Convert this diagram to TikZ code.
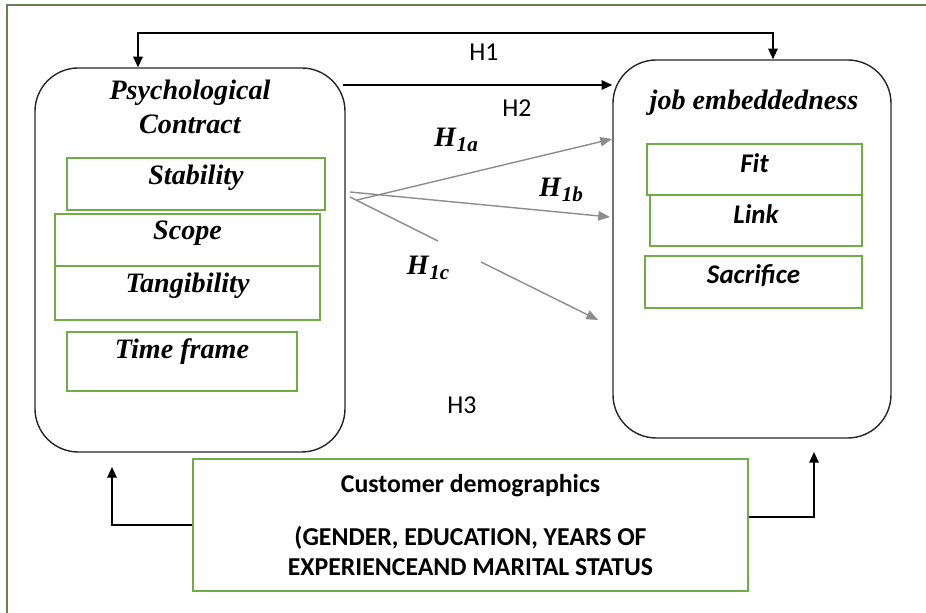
\documentclass[tikz,border=0pt]{standalone}
\usepackage{fontspec}
\setmainfont{Liberation Serif}
\newfontfamily\calfont{Carlito}
\usetikzlibrary{arrows.meta,positioning}
\definecolor{framegreen}{RGB}{100,130,80}
\definecolor{boxgreen}{RGB}{112,173,71}
\definecolor{hgray}{RGB}{140,140,140}
\newcommand{\hyp}[1]{\textbf{\textit{H}}\raisebox{-0.45ex}{\textbf{\textit{\small #1}}}}

\begin{document}
\begin{tikzpicture}[x=0.015cm,y=-0.015cm,
  bigbox/.style={draw=black!85,line width=0.6pt,rounded corners=0.65cm},
  subbox/.style={draw=boxgreen,line width=0.6pt,inner sep=0pt},
  psytext/.style={font=\bfseries\itshape\fontsize{12}{12.5}\selectfont,anchor=center,yshift=-0.3cm},
  jobtext/.style={font=\calfont\bfseries\itshape\fontsize{11.5}{12}\selectfont,anchor=center,yshift=-0.3cm},
  hlabel/.style={font=\calfont\fontsize{11}{12}\selectfont},
  arr/.style={line width=0.6pt,-{Triangle[length=4.5pt,width=4pt]}},
  grayarr/.style={hgray,line width=0.6pt,-{Triangle[length=5pt,width=4pt]}}]
  \useasboundingbox (0,0) rectangle (926,613);

  % frame
  \draw[framegreen,line width=1.2pt] (935,5) -- (7,5) -- (7,620);

  \node[bigbox,minimum width=4.65cm,minimum height=5.76cm] (psy) at (190,260) {};
  \node[bigbox,minimum width=4.17cm,minimum height=5.67cm] (job) at (752,249) {};

  \node[font=\bfseries\itshape\fontsize{12}{14.5}\selectfont,align=center] (psyt) at (190,107) {Psychological\\Contract};
  \node[font=\bfseries\itshape\fontsize{12}{14}\selectfont] (jobt) at (754,103) {job embeddedness};

  \foreach \name/\cx/\cy/\w/\h/\boxlabel in
  {
    stab/196/184/3.87/0.78/Stability,
    scope/187.5/240/3.975/0.78/Scope,
    tang/187.5/293/3.975/0.81/Tangibility,
    time/182/361.5/3.45/0.885/Time frame
  }
  {
   \node[subbox,minimum width=\w cm,minimum height=\h cm,label={[psytext]north:\boxlabel}] (\name) at (\cx,\cy) {};
  }

  \foreach \name/\cx/\cy/\w/\h/\boxlabel in
  {
    fit/754.5/169.5/3.225/0.765/Fit,
    link/756/220.5/3.18/0.765/Link,
    sac/753.5/282/3.255/0.78/Sacrifice
  }
  {
   \node[subbox,minimum width=\w cm,minimum height=\h cm,label={[jobtext]north:\boxlabel}] (\name) at (\cx,\cy) {};
  }

  \node[draw=boxgreen,line width=0.6pt,minimum width=8.325cm,minimum height=1.98cm,
    align=center,font=\calfont\bfseries\fontsize{11}{12.5}\selectfont] (demo) at (470.5,525)
    {Customer demographics\\[0.36cm](GENDER, EDUCATION, YEARS OF\\EXPERIENCEAND MARITAL STATUS};

  % H1 and H2
  \coordinate (h1l) at (138,33);
  \coordinate (h1r) at (773,33);
  \draw[line width=0.6pt,{Triangle[length=4.5pt,width=4pt]}-{Triangle[length=4.5pt,width=4pt]}]
    (h1l |- psy.north) -- (h1l) -- (h1r) -- (h1r |- job.north);
  \coordinate (h2s) at (343,85);
  \draw[arr] (h2s) -- (h2s -| job.west);

  \node[hlabel] (h1) at (484,52) {H1};
  \node[hlabel] (h2) at (517,108) {H2};
  \node[hlabel] (h3) at (462,405) {H3};

  % sub hypotheses
  \coordinate (a0) at (357,200);
  \coordinate (a1) at (612,139);
  \coordinate (b0) at (350,192);
  \coordinate (b1) at (610,217);
  \coordinate (c0) at (350,197);
  \coordinate (c1) at (438,241);
  \coordinate (c2) at (481,262);
  \coordinate (c3) at (598,320);
  \draw[grayarr] (a0) -- (a1);
  \draw[grayarr] (b0) -- (b1);
  \draw[hgray,line width=0.6pt] (c0) -- (c1);
  \draw[grayarr] (c2) -- (c3);

  \node[font=\fontsize{12}{12}\selectfont] (h1a) at (456,140) {\hyp{1a}};
  \node[font=\fontsize{12}{12}\selectfont] (h1b) at (561,190) {\hyp{1b}};
  \node[font=\fontsize{12}{12}\selectfont] (h1c) at (428,268) {\hyp{1c}};

  % H3 moderator
  \coordinate (dl) at (112,467);
  \coordinate (dr) at (814,452);
  \draw[arr] (demo.west) -| (dl);
  \draw[arr] ([yshift=0.12cm]demo.east) -| (dr);
\end{tikzpicture}
\end{document}
